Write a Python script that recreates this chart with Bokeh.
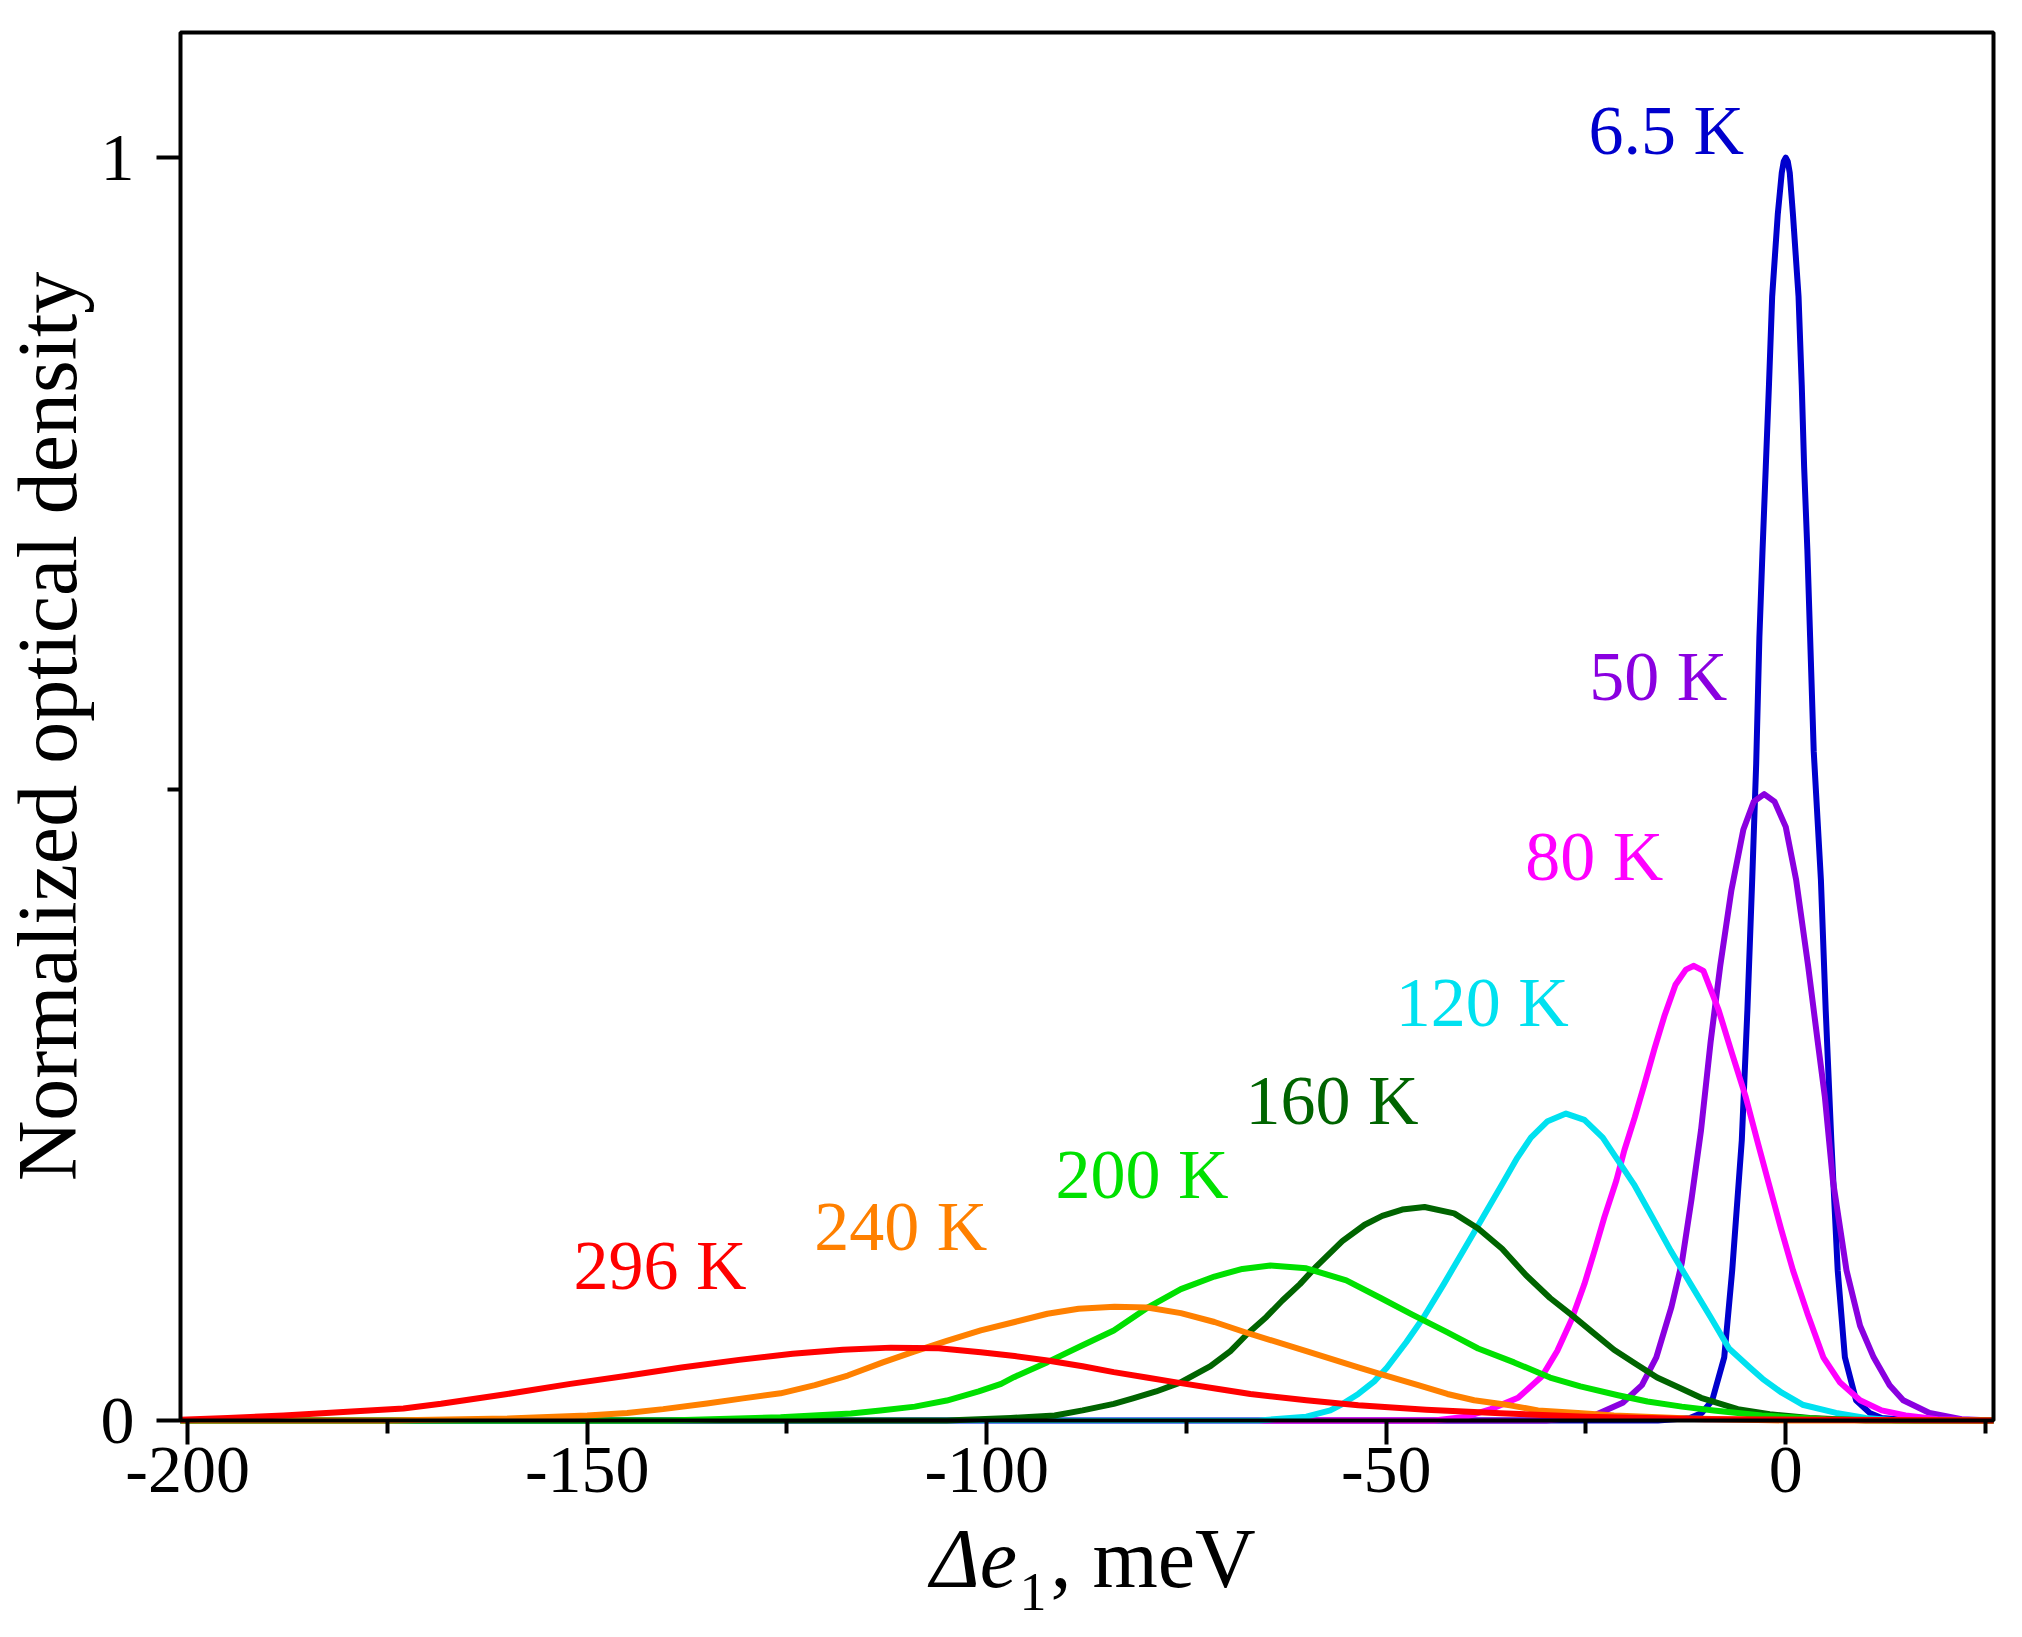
import math

from bokeh.core.properties import value
from bokeh.embed import file_html
from bokeh.models import BoxAnnotation, ColumnDataSource, FixedTicker, Range1d
from bokeh.plotting import figure
from bokeh.resources import INLINE

# Axis ticks
x_major = [-200, -150, -100, -50, 0]
x_minor = [-175, -125, -75, -25, 25]
x_tick_labels = ["-200", "-150", "-100", "-50", "0"]
y_major = [0, 1]
y_minor = [0.5]
y_tick_labels = ["0", "1"]

# Spectra: energy shift (meV) vs normalized optical density
x_6k5 = [-200.9, -16, -12, -10.5, -9.2, -7.7, -6.7, -5.5, -4.8, -4.2, -3.7, -3.3, -2.9, -2.5, -2.1, -1.7, -1.0, -0.5, -0.25, 0,
         0.25, 0.5, 0.9, 1.6, 2.0, 2.3, 2.7, 3.05, 3.5, 4.4, 5.0, 5.7, 6.5, 7.4, 8.8, 10.5, 12, 16, 26]
y_6k5 = [0, 0, 0.002, 0.006, 0.016, 0.05, 0.119, 0.222, 0.325, 0.428, 0.52, 0.62, 0.69, 0.755, 0.82, 0.89, 0.955, 0.988, 0.997, 1.0,
         0.997, 0.988, 0.955, 0.89, 0.82, 0.755, 0.69, 0.62, 0.53, 0.428, 0.325, 0.222, 0.119, 0.05, 0.016, 0.006, 0.002, 0, 0]

x_50k = [-200.9, -30, -24, -20.4, -18, -16.2, -14.3, -13, -11.8, -10.6, -9.4, -8.2, -6.8, -5.3, -4, -2.7, -1.4, 0, 1.3, 2.8,
         4.0, 4.9, 5.9, 7.6, 9.3, 11, 13, 14.7, 18, 22, 26]
y_50k = [0, 0, 0.004, 0.014, 0.028, 0.05, 0.09, 0.125, 0.175, 0.23, 0.30, 0.36, 0.42, 0.468, 0.49, 0.496, 0.49, 0.47, 0.428, 0.36,
         0.30, 0.256, 0.19, 0.119, 0.075, 0.05, 0.028, 0.016, 0.006, 0.001, 0]

x_80k = [-200.9, -44, -40, -36.9, -33.5, -30.5, -28.6, -26.8, -25.2, -23.9, -22.7, -21.2, -20.2, -18.9, -17.7, -16.4, -15.2,
         -13.8, -12.5, -11.5, -10.3, -8.4, -6.7, -5.0, -3.5, -2.1, -0.6, 0.9, 2.7, 4.7, 6.8, 9.3, 12, 15, 19, 26]
y_80k = [0, 0, 0.003, 0.009, 0.018, 0.035, 0.055, 0.08, 0.108, 0.135, 0.161, 0.19, 0.214, 0.24, 0.266, 0.295, 0.32,
         0.345, 0.357, 0.36, 0.356, 0.325, 0.29, 0.256, 0.22, 0.187, 0.152, 0.119, 0.085, 0.05, 0.03, 0.016, 0.008, 0.004, 0.001, 0]

x_120k = [-200.9, -66, -60, -57, -55.5, -53.5, -51.5, -49.9, -47.5, -45.3, -42.8, -40.3, -37.9, -35.5, -33.6, -31.9, -29.8,
          -27.5, -25.2, -22.9, -19.0, -16.7, -14.4, -11.9, -9.4, -7.1, -4.5, -2.9, -0.5, 2.1, 6.3, 10, 14, 26]
y_120k = [0, 0, 0.003, 0.008, 0.013, 0.021, 0.031, 0.042, 0.062, 0.082, 0.108, 0.135, 0.161, 0.187, 0.208, 0.224, 0.237,
          0.243, 0.238, 0.224, 0.187, 0.161, 0.1345, 0.108, 0.0817, 0.057, 0.042, 0.033, 0.022, 0.0125, 0.006, 0.002, 0, 0]

x_160k = [-200.9, -105, -97, -91.5, -88, -84.1, -81.7, -78.8, -75.8, -72, -69.5, -67.4, -65, -63, -60.8, -58.9, -55.5, -52.7,
          -50.5, -48, -45.2, -41.5, -38.5, -35.5, -32.5, -29.5, -26.5, -24, -21.5, -18.8, -16.1, -13.3, -10.6, -6, -2, 3, 10, 26]
y_160k = [0, 0, 0.002, 0.004, 0.008, 0.0132, 0.0175, 0.023, 0.030, 0.043, 0.055, 0.0685, 0.082, 0.095, 0.108, 0.121, 0.142, 0.155,
          0.162, 0.167, 0.169, 0.164, 0.152, 0.136, 0.115, 0.097, 0.082, 0.069, 0.056, 0.045, 0.034, 0.026, 0.018, 0.009, 0.005, 0.002, 0, 0]

x_200k = [-200.9, -140, -125.8, -117, -113.3, -109, -105, -101, -98.2, -96.6, -92.4, -88.2, -84.1, -79.7, -75.7, -71.5, -68, -64.5,
          -60, -55, -50.7, -46.8, -42.4, -38.5, -34, -29.5, -25.7, -21, -17.3, -13, -9, -3, 5, 15, 26]
y_200k = [0, 0, 0.0026, 0.0055, 0.008, 0.011, 0.0158, 0.023, 0.029, 0.0343, 0.0462, 0.059, 0.0713, 0.09, 0.104, 0.114, 0.12, 0.1227,
          0.1205, 0.111, 0.097, 0.084, 0.070, 0.057, 0.046, 0.034, 0.027, 0.02, 0.015, 0.011, 0.008, 0.004, 0.001, 0, 0]

x_240k = [-200.9, -175, -160, -150, -145, -140.5, -135, -130.5, -125.8, -121.5, -117.4, -113, -109.1, -105, -100.75, -96.5, -92.4,
          -88.5, -84, -79.9, -75.7, -71.5, -67, -60, -53.5, -50.7, -46, -42.35, -39, -34.5, -31, -26, -21.5, -12, 0, 26]
y_240k = [0, 0, 0.0015, 0.004, 0.006, 0.009, 0.0135, 0.0175, 0.0215, 0.028, 0.0356, 0.046, 0.0545, 0.063, 0.0713, 0.078, 0.0845,
          0.0885, 0.09, 0.0895, 0.085, 0.078, 0.0685, 0.055, 0.042, 0.0368, 0.028, 0.021, 0.016, 0.012, 0.008, 0.006, 0.004, 0.0015, 0, 0]

x_296k = [-200.9, -195, -188, -180, -173, -168.3, -160, -152.1, -145, -138.2, -131, -124.3, -118, -112, -106, -100.75, -96.5,
          -92.4, -88, -84.1, -80, -75.7, -71, -67, -60, -53.5, -45, -35.7, -25, -10, 26]
y_296k = [0.0005, 0.002, 0.004, 0.007, 0.0095, 0.0132, 0.021, 0.029, 0.0355, 0.042, 0.048, 0.0528, 0.056, 0.0577, 0.0572, 0.054, 0.051,
          0.0475, 0.043, 0.0383, 0.034, 0.0296, 0.025, 0.021, 0.016, 0.012, 0.0085, 0.0058, 0.003, 0.001, 0]

temps = ["6.5 K", "50 K", "80 K", "120 K", "160 K", "200 K", "240 K", "296 K"]
series = [(x_6k5, y_6k5), (x_50k, y_50k), (x_80k, y_80k), (x_120k, y_120k),
          (x_160k, y_160k), (x_200k, y_200k), (x_240k, y_240k), (x_296k, y_296k)]

# Styling
colors = ["#0000CD", "#8A00E0", "#FF00FF", "#00E1F0", "#006400", "#00E000", "#FF8000", "#FF0000"]
label_anchor_x = [-24.7, -24.6, -32.6, -48.8, -67.6, -91.4, -121.6, -151.7]
label_anchor_y = [1.0008, 0.5685, 0.426, 0.3104, 0.2328, 0.1742, 0.133, 0.1021]
serif = "Liberation Serif"
line_width = 6

# Layout: the data box sits at these canvas pixels; the frame covers the whole
# canvas so that tick labels and titles are drawn inside it
W, H = 2006, 1621
box_l, box_r, box_t, box_b = 180, 1993, 32, 1420
x0, x1, y0, y1 = -200.9, 26.0, 0.0, 1.099
kx = (box_r - box_l) / (x1 - x0)
ky = (box_b - box_t) / (y1 - y0)


def px_x(px):
    return x0 + (px - box_l) / kx


def px_y(py):
    return y0 + (box_b - py) / ky


p = figure(width=W, height=H, title=None,
           x_range=Range1d(px_x(0), px_x(W)), y_range=Range1d(px_y(H), px_y(0)),
           output_backend="svg", toolbar_location=None, tools="",
           min_border_left=0, min_border_right=0, min_border_top=0, min_border_bottom=0)
p.grid.visible = False
p.background_fill_color = "white"
p.border_fill_color = "white"
p.outline_line_color = None

for ax in (p.xaxis[0], p.yaxis[0]):
    ax.axis_line_color = None
    ax.major_tick_line_width = 4
    ax.minor_tick_line_width = 4
    ax.major_tick_line_color = "black"
    ax.minor_tick_line_color = "black"
    ax.major_tick_out = 24
    ax.major_tick_in = 0
    ax.minor_tick_out = 13
    ax.minor_tick_in = 0
    ax.major_label_text_font = serif
    ax.major_label_text_font_size = "68px"
    ax.major_label_text_color = "black"

p.xaxis.fixed_location = y0
p.xaxis.ticker = FixedTicker(ticks=x_major, minor_ticks=x_minor)
p.xaxis.major_label_overrides = dict(zip(x_major, x_tick_labels))
p.xaxis.major_label_standoff = 3
p.yaxis.fixed_location = x0
p.yaxis.ticker = FixedTicker(ticks=y_major, minor_ticks=y_minor)
p.yaxis.major_label_overrides = dict(zip(y_major, y_tick_labels))
p.yaxis.major_label_standoff = 22

# curves, red drawn last so it sits on top along the baseline
for (xs, ys), c in zip(series, colors):
    p.line(xs, ys, color=c, line_width=line_width, line_join="round")

# plot box
p.add_layout(BoxAnnotation(left=x0, right=x1, bottom=y0, top=y1, fill_alpha=0,
                           line_color="black", line_alpha=1.0, line_width=4))

# temperature labels (y_offset moves the text onto its true baseline)
lab_src = ColumnDataSource(data=dict(x=label_anchor_x, y=label_anchor_y, text=temps, color=colors))
p.text("x", "y", text="text", text_color="color", source=lab_src,
       text_font=value(serif), text_font_size="70px", y_offset=-26,
       text_align="left", text_baseline="alphabetic")

# axis titles
p.text(x=[px_x(80)], y=[px_y(726)], text=["Normalized optical density"], angle=math.pi / 2,
       text_font=value(serif), text_font_size="84px", text_color="black", x_offset=-33,
       text_align="center", text_baseline="alphabetic")
p.text(x=[px_x(930)], y=[px_y(1592)], text=["\u0394e"], text_font=value(serif), text_font_style="italic",
       text_font_size="84px", text_color="black", y_offset=-34, text_align="left", text_baseline="alphabetic")
p.text(x=[px_x(1019)], y=[px_y(1612)], text=["1"], text_font=value(serif),
       text_font_size="54px", text_color="black", y_offset=-21, text_align="left", text_baseline="alphabetic")
p.text(x=[px_x(1050)], y=[px_y(1592)], text=[", meV"], text_font=value(serif),
       text_font_size="84px", text_color="black", y_offset=-34, text_align="left", text_baseline="alphabetic")

open("out.html", "w").write(file_html(p, INLINE))
